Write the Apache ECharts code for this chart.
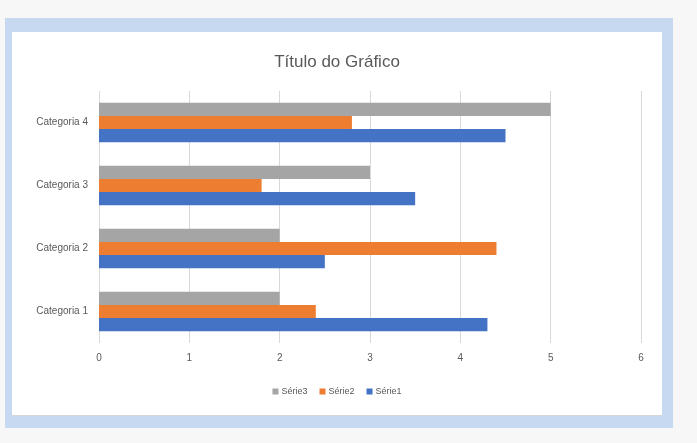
<!DOCTYPE html>
<html>
<head>
<meta charset="utf-8">
<script src="https://cdn.jsdelivr.net/npm/echarts@6/dist/echarts.min.js"></script>
<style>
  body { margin: 0; background: #f7f7f7; }
  #frame { position: absolute; left: 5px; top: 18px; width: 668px; height: 410px; background: #c6d9f1; }
  #chart { position: absolute; left: 12px; top: 32px; width: 650px; height: 383px; background: #fff; border-bottom: 1px solid #d6d6d6; }
</style>
</head>
<body>
<div id="frame"></div>
<div id="chart"></div>
<script>
var categorias = ["Categoria 1", "Categoria 2", "Categoria 3", "Categoria 4"];
var serie1 = [4.3, 2.5, 3.5, 4.5];
var serie2 = [2.4, 4.4, 1.8, 2.8];
var serie3 = [2, 2, 3, 5];
var xTicks = [0, 1, 2, 3, 4, 5, 6];

var textColor = "#595959";
var font = "Liberation Sans";

// horizontal bars stack the first series on top, so Série3 goes first
var chartOption = {
  animation: false,
  title: {
    text: "Título do Gráfico",
    left: "center",
    top: 17,
    textStyle: { color: textColor, fontSize: 17, fontWeight: "normal", fontFamily: font },
  },
  legend: {
    data: ["Série3", "Série2", "Série1"],
    left: "center",
    top: 350,
    itemWidth: 6,
    itemHeight: 6,
    itemGap: 12,
    icon: "rect",
    textStyle: { color: textColor, fontSize: 9, fontFamily: font, padding: [0, 0, 0, -2] },
  },
  grid: { left: 87, right: 21, top: 59, bottom: 72 },
  xAxis: {
    type: "value",
    min: xTicks[0],
    max: xTicks[xTicks.length - 1],
    interval: 1,
    axisLine: { show: false },
    axisTick: { show: false },
    axisLabel: { color: textColor, fontSize: 10, fontFamily: font, margin: 10 },
    splitLine: { lineStyle: { color: "#d9d9d9", width: 1 } },
  },
  yAxis: {
    type: "category",
    data: categorias,
    axisLine: { show: false },
    axisTick: { show: false },
    axisLabel: { color: textColor, fontSize: 10, fontFamily: font, margin: 11 },
  },
  series: [
    { name: "Série3", type: "bar", data: serie3, itemStyle: { color: "#a5a5a5" }, barGap: "0%", barCategoryGap: "37%" },
    { name: "Série2", type: "bar", data: serie2, itemStyle: { color: "#ed7d31" } },
    { name: "Série1", type: "bar", data: serie1, itemStyle: { color: "#4472c4" } },
  ],
};

var curchart = echarts.init(document.getElementById("chart"));
curchart.setOption(chartOption);
</script>
</body>
</html>
